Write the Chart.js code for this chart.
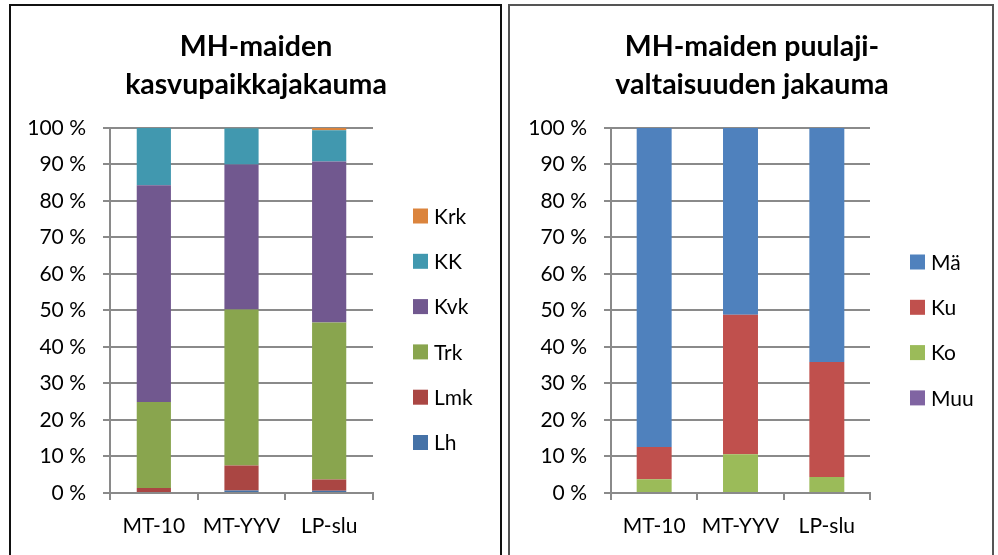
<!DOCTYPE html>
<html>
<head>
<meta charset="utf-8">
<script src="https://cdn.jsdelivr.net/npm/chart.js@4"></script>
<style>
body { margin: 0; background: #fff; width: 998px; height: 555px; overflow: hidden; position: relative; font-family: Lato, sans-serif; }
.box { position: absolute; box-sizing: border-box; border: 2px solid #111; }
#boxA { left: 9px; top: 4px; width: 493px; height: 600px; }
#boxB { left: 508px; top: 4px; width: 486px; height: 600px; border-color: #555; }
canvas { position: absolute; }
#chartA { left: 12px; top: 7px; }
#chartB { left: 511px; top: 7px; }
</style>
</head>
<body>
<div class="box" id="boxA"></div>
<div class="box" id="boxB"></div>
<canvas id="chartA" width="488" height="548"></canvas>
<canvas id="chartB" width="482" height="548"></canvas>
<script>
const categories = ['MT-10', 'MT-YYV', 'LP-slu'];
const yTicks = [0, 10, 20, 30, 40, 50, 60, 70, 80, 90, 100];

// kasvupaikkajakauma, % (bottom to top)
const lh = [0.3, 0.7, 0.6];
const lmk = [1.1, 6.8, 3.1];
const trk = [23.5, 42.8, 43.0];
const kvk = [59.4, 39.7, 44.1];
const kk = [15.7, 9.9, 8.6];
const krk = [0.0, 0.1, 0.6];

// puulajivaltaisuus, % (bottom to top)
const muu = [0.3, 0.3, 0.3];
const ko = [3.5, 10.3, 4.1];
const ku = [8.8, 38.2, 31.5];
const ma = [87.4, 51.2, 64.1];

const gridColor = '#8a8a8a';
const tickFont = { family: 'Lato', size: 21 };

// legend at the right, top item = top of the stack.
// it takes its own box in the layout so the title stays centred on the canvas
const sideLegend = {
    id: 'sideLegend',
    beforeInit(chart) {
        const w = chart.config.options.plugins.sideLegend.width;
        Chart.layouts.addBox(chart, {
            position: 'right',
            weight: 1000,
            fullSize: false,
            options: { stackWeight: 1 },
            update(maxW, maxH) { this.width = w; this.height = maxH; },
            isHorizontal() { return false; },
            getPadding() { return { top: 0, left: 0, right: 0, bottom: 0 }; },
            draw() {}
        });
    },
    afterDraw(chart, args, opts) {
        const ctx = chart.ctx;
        const sets = chart.data.datasets.slice().reverse();
        ctx.save();
        ctx.font = '21px Lato';
        ctx.textBaseline = 'middle';
        sets.forEach(function (ds, i) {
            const y = opts.top + i * opts.step;
            ctx.fillStyle = ds.backgroundColor;
            ctx.fillRect(opts.x, y - 7.5, 15, 15);
            ctx.fillStyle = '#000';
            ctx.fillText(ds.label, opts.x + 21, y + 1);
        });
        ctx.restore();
    }
};

function makeChart(id, title, datasets, barPct, yWidth, legendOpts) {
    return new Chart(id, {
        type: 'bar',
        data: { labels: categories, datasets: datasets },
        plugins: [sideLegend],
        options: {
            responsive: false,
            animation: false,
            layout: { padding: 0 },
            datasets: { bar: { barPercentage: barPct, categoryPercentage: 1 } },
            plugins: {
                legend: { display: false },
                tooltip: { enabled: false },
                title: {
                    display: true,
                    text: title,
                    color: '#000',
                    font: { family: 'Lato', size: 28.5, weight: 'bold', lineHeight: 1.333 },
                    padding: { top: 21, bottom: 24 }
                },
                sideLegend: legendOpts
            },
            scales: {
                x: {
                    stacked: true,
                    afterFit: function (s) { s.height = 62; },
                    grid: { offset: true, drawOnChartArea: false, drawTicks: true, tickLength: 7, color: gridColor, lineWidth: 2 },
                    border: { display: true, color: gridColor, width: 2 },
                    ticks: { color: '#000', font: tickFont, padding: 14 }
                },
                y: {
                    stacked: true,
                    min: 0,
                    max: 100,
                    afterFit: function (s) { s.width = yWidth; },
                    afterBuildTicks: function (s) { s.ticks = yTicks.map(v => ({ value: v })); },
                    grid: { color: gridColor, lineWidth: 2, tickLength: 7 },
                    border: { display: true, color: gridColor, width: 2 },
                    ticks: { color: '#000', font: tickFont, padding: 17, callback: v => v + '\u00a0%' }
                }
            }
        }
    });
}

makeChart('chartA', ['MH-maiden', 'kasvupaikkajakauma'], [
    { label: 'Lh', data: lh, backgroundColor: '#4572A7' },
    { label: 'Lmk', data: lmk, backgroundColor: '#AA4643' },
    { label: 'Trk', data: trk, backgroundColor: '#89A54E' },
    { label: 'Kvk', data: kvk, backgroundColor: '#71588F' },
    { label: 'KK', data: kk, backgroundColor: '#4198AF' },
    { label: 'Krk', data: krk, backgroundColor: '#DB843D' }
], 0.39, 98, { width: 127, x: 401, top: 209, step: 45.3 });

makeChart('chartB', ['MH-maiden puulaji-', 'valtaisuuden jakauma'], [
    { label: 'Muu', data: muu, backgroundColor: '#8064A2' },
    { label: 'Ko', data: ko, backgroundColor: '#9BBB59' },
    { label: 'Ku', data: ku, backgroundColor: '#C0504D' },
    { label: 'Mä', data: ma, backgroundColor: '#4F81BD' }
], 0.405, 100, { width: 123, x: 399, top: 255, step: 45.3 });
</script>
</body>
</html>
